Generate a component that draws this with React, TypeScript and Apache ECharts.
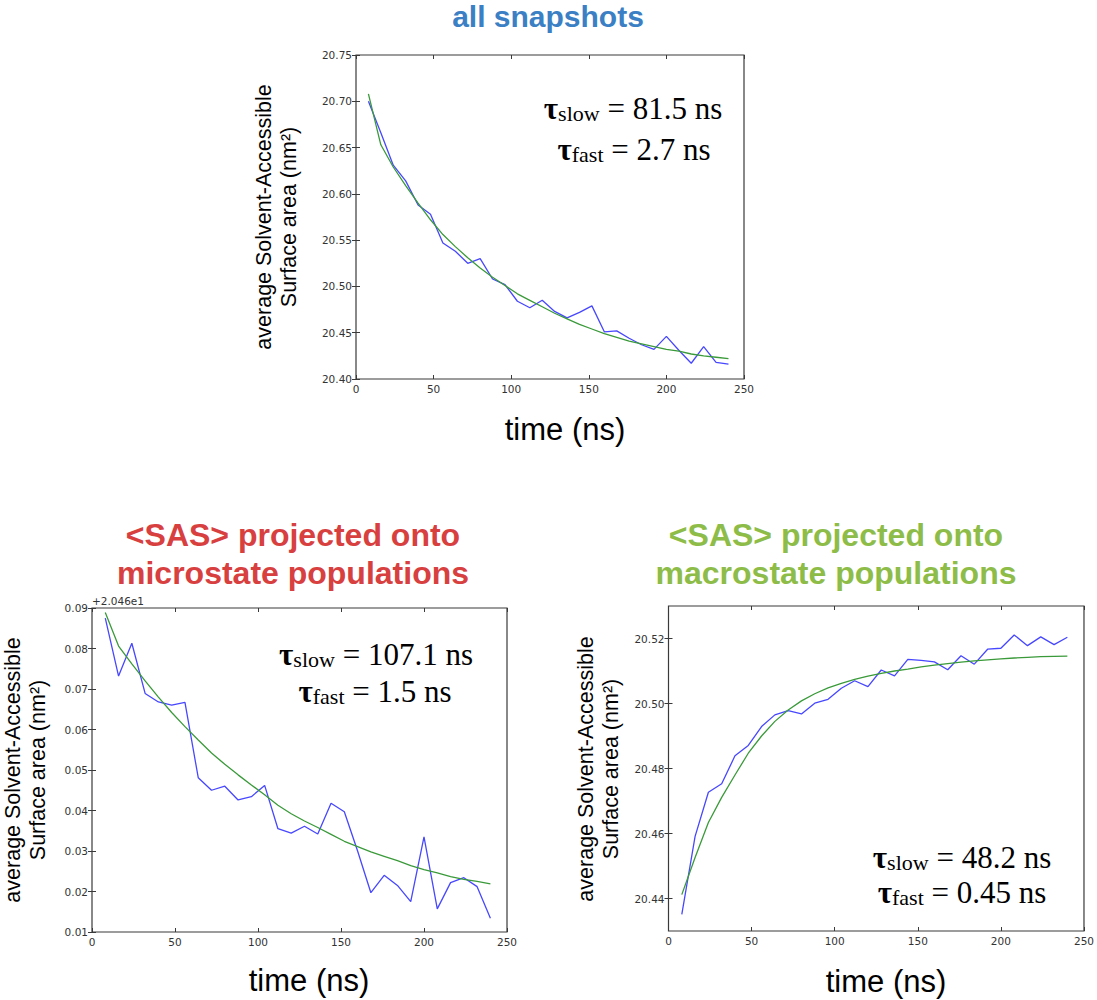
import React, { useEffect, useRef } from "react";
import * as echarts from "echarts";

// time points (ns)
const TIME = [8, 16, 24, 32, 40, 48, 56, 64, 72, 80, 88, 96, 104, 112, 120, 128, 136, 144, 152, 160, 168, 176, 184, 192, 200, 208, 216, 224, 232, 240];

// all snapshots
const ALL_SAS = [20.700, 20.666, 20.631, 20.614, 20.588, 20.578, 20.547, 20.538, 20.525, 20.530, 20.508, 20.502, 20.484, 20.477, 20.485, 20.473, 20.466, 20.472, 20.479, 20.451, 20.452, 20.444, 20.437, 20.432, 20.446, 20.431, 20.417, 20.435, 20.418, 20.416];
const ALL_FIT = [20.708, 20.653, 20.629, 20.609, 20.590, 20.572, 20.556, 20.543, 20.531, 20.520, 20.510, 20.501, 20.492, 20.485, 20.478, 20.471, 20.465, 20.459, 20.454, 20.449, 20.445, 20.441, 20.438, 20.435, 20.432, 20.430, 20.427, 20.425, 20.4235, 20.422];

// microstate projection (values shown relative to offset +2.046e1)
const MICRO_SAS = [0.0875, 0.0732, 0.0813, 0.0689, 0.0668, 0.0660, 0.0667, 0.0481, 0.0450, 0.0460, 0.0426, 0.0434, 0.0462, 0.0355, 0.0344, 0.0361, 0.0342, 0.0418, 0.0397, 0.0300, 0.0197, 0.0240, 0.0215, 0.0175, 0.0335, 0.0157, 0.0222, 0.0234, 0.0212, 0.0134];
const MICRO_FIT = [0.0889, 0.0806, 0.0762, 0.0720, 0.0680, 0.0642, 0.0607, 0.0574, 0.0542, 0.0514, 0.0488, 0.0463, 0.0439, 0.0413, 0.0392, 0.0374, 0.0358, 0.0341, 0.0324, 0.0311, 0.0298, 0.0287, 0.0276, 0.0264, 0.0254, 0.0246, 0.0237, 0.0230, 0.0225, 0.0219];

// macrostate projection
const MACRO_SAS = [20.4351, 20.4591, 20.4727, 20.4753, 20.4839, 20.4871, 20.4929, 20.4965, 20.4978, 20.4968, 20.5001, 20.5013, 20.5047, 20.5070, 20.5052, 20.5103, 20.5085, 20.5136, 20.5133, 20.5128, 20.5104, 20.5147, 20.5121, 20.5167, 20.5170, 20.5211, 20.5178, 20.5205, 20.5181, 20.5204];
const MACRO_FIT = [20.4412, 20.4526, 20.4634, 20.4711, 20.4780, 20.4847, 20.4900, 20.4945, 20.4980, 20.5008, 20.5030, 20.5048, 20.5062, 20.5074, 20.5084, 20.5093, 20.5100, 20.5106, 20.5113, 20.5118, 20.5123, 20.5127, 20.5131, 20.5134, 20.5137, 20.5140, 20.5142, 20.5144, 20.5145, 20.5146];

// tick values
const X_TICKS_MAX = 250;
const X_INTERVAL = 50;
const ALL_Y_TICKS = [20.40, 20.45, 20.50, 20.55, 20.60, 20.65, 20.70, 20.75];
const MICRO_Y_TICKS = [0.01, 0.02, 0.03, 0.04, 0.05, 0.06, 0.07, 0.08, 0.09];
const MACRO_Y_TICKS = [20.44, 20.46, 20.48, 20.50, 20.52];

const TITLES = ["all snapshots", "<SAS> projected onto", "microstate populations", "<SAS> projected onto", "macrostate populations"];
const TAUS = [
  ["81.5", "2.7"],
  ["107.1", "1.5"],
  ["48.2", "0.45"],
];

const Y_NAME = "average Solvent-Accessible\nSurface area (nm²)";
const X_NAME = "time (ns)";

const BLUE = "#4747ff";
const GREEN = "#3a9a3a";
const AXIS = "#3a3a3a";
const LABEL = "#333";

function App() {
  const ref = useRef<HTMLDivElement>(null);

  useEffect(() => {
    if (!ref.current) return;
    const chart = echarts.init(ref.current, null, { renderer: "svg" });

    const grids = [
      { left: 356, top: 55, width: 388, height: 324 },
      { left: 92, top: 608, width: 415, height: 324 },
      { left: 668.5, top: 606, width: 418.5, height: 325 },
    ];
    const yRanges = [
      { min: 20.4, max: 20.75, ticks: ALL_Y_TICKS, fmt: (v: number) => v.toFixed(2) },
      { min: 0.01, max: 0.09, ticks: MICRO_Y_TICKS, fmt: (v: number) => v.toFixed(2) },
      { min: 20.43, max: 20.53, ticks: MACRO_Y_TICKS, fmt: (v: number) => v.toFixed(2) },
    ];

    const xAxis: any[] = [];
    const yAxis: any[] = [];
    grids.forEach((_, i) => {
      const base = {
        type: "value",
        gridIndex: i,
        min: 0,
        max: X_TICKS_MAX,
        interval: X_INTERVAL,
        axisLine: { show: false },
        splitLine: { show: false },
        axisTick: { inside: true, length: 4, lineStyle: { color: AXIS, width: 1 } },
      };
      xAxis.push({
        ...base,
        position: "bottom",
        axisLabel: { fontFamily: "DejaVu Sans", fontSize: 10.5, color: LABEL, margin: 4 },
      });
      xAxis.push({ ...base, position: "top", axisLabel: { show: false } });

      const r = yRanges[i];
      const ybase = {
        type: "value",
        gridIndex: i,
        min: r.min,
        max: r.max,
        axisLine: { show: false },
        splitLine: { show: false },
        axisTick: { inside: true, length: 4, customValues: r.ticks, lineStyle: { color: AXIS, width: 1 } },
      };
      yAxis.push({
        ...ybase,
        position: "left",
        axisLabel: {
          customValues: r.ticks,
          formatter: r.fmt,
          fontFamily: "DejaVu Sans",
          fontSize: 10.5,
          color: LABEL,
          margin: 4,
        },
      });
      yAxis.push({ ...ybase, position: "right", axisLabel: { show: false } });
    });

    const sets = [
      [ALL_SAS, ALL_FIT],
      [MICRO_SAS, MICRO_FIT],
      [MACRO_SAS, MACRO_FIT],
    ];
    const series: any[] = [];
    sets.forEach((pair, i) => {
      [BLUE, GREEN].forEach((color, j) => {
        series.push({
          type: "line",
          xAxisIndex: 2 * i,
          yAxisIndex: 2 * i,
          showSymbol: false,
          symbol: "none",
          silent: true,
          lineStyle: { color, width: 1.3 },
          data: TIME.map((t, k) => [t, pair[j][k]]),
          z: 2 + j,
        });
      });
    });

    const tauText = (x: number, y: number, sub: string, val: string) => ({
      type: "text",
      x,
      y,
      style: {
        text: `{t|τ}{s|${sub}}{v| = ${val} ns}`,
        rich: {
          t: { fontFamily: "Liberation Serif", fontWeight: "bold", fontSize: 31, verticalAlign: "bottom", lineHeight: 36, fill: "#000" },
          s: { fontFamily: "Liberation Serif", fontSize: 22, verticalAlign: "bottom", lineHeight: 36, fill: "#000" },
          v: { fontFamily: "Liberation Serif", fontSize: 31, verticalAlign: "bottom", lineHeight: 36, fill: "#000" },
        },
        align: "center",
        textAlign: "center",
        verticalAlign: "middle",
        textVerticalAlign: "middle",
        fill: "#000",
      },
    });

    const plainText = (x: number, y: number, text: string, size: number, color: string, weight = "normal", rotation = 0, lineHeight?: number) => ({
      type: "text",
      x,
      y,
      rotation,
      style: {
        text,
        fontFamily: "Liberation Sans",
        fontSize: size,
        fontWeight: weight,
        lineHeight: lineHeight || size * 1.2,
        fill: color,
        align: "center",
        textAlign: "center",
        verticalAlign: "middle",
        textVerticalAlign: "middle",
      },
    });

    const graphic: any[] = [
      plainText(548, 16, TITLES[0], 30, "#3b7fc4", "bold"),
      plainText(293, 535, TITLES[1], 32, "#d8403f", "bold"),
      plainText(293, 573, TITLES[2], 32, "#d8403f", "bold"),
      plainText(836, 535, TITLES[3], 32, "#8dbd48", "bold"),
      plainText(836, 573, TITLES[4], 32, "#8dbd48", "bold"),
      plainText(276, 217, Y_NAME, 21.5, "#000", "normal", Math.PI / 2, 25),
      plainText(25, 770, Y_NAME, 21.5, "#000", "normal", Math.PI / 2, 25),
      plainText(598, 769, Y_NAME, 21.5, "#000", "normal", Math.PI / 2, 25),
      plainText(565, 429, X_NAME, 31, "#000"),
      plainText(309, 980, X_NAME, 31, "#000"),
      plainText(886, 981, X_NAME, 31, "#000"),
      tauText(633, 106, "slow", TAUS[0][0]),
      tauText(634, 147, "fast", TAUS[0][1]),
      tauText(376, 652, "slow", TAUS[1][0]),
      tauText(375, 689, "fast", TAUS[1][1]),
      tauText(962, 855, "slow", TAUS[2][0]),
      tauText(962, 890, "fast", TAUS[2][1]),
      {
        type: "text",
        x: 92,
        y: 601,
        style: {
          text: "+2.046e1",
          fontFamily: "DejaVu Sans",
          fontSize: 10.5,
          fill: LABEL,
          align: "left",
          textAlign: "left",
          verticalAlign: "middle",
          textVerticalAlign: "middle",
        },
      },
    ];

    chart.setOption({
      animation: false,
      backgroundColor: "#fff",
      grid: grids.map((g) => ({ ...g, show: true, borderColor: AXIS, borderWidth: 1.2, backgroundColor: "transparent" })),
      xAxis,
      yAxis,
      series,
      graphic,
    });

    return () => chart.dispose();
  }, []);

  return (
    <div
      ref={ref}
      style={{ position: "absolute", left: 0, top: 0, width: 1097, height: 1000, background: "#fff" }}
    />
  );
}

export default App;
